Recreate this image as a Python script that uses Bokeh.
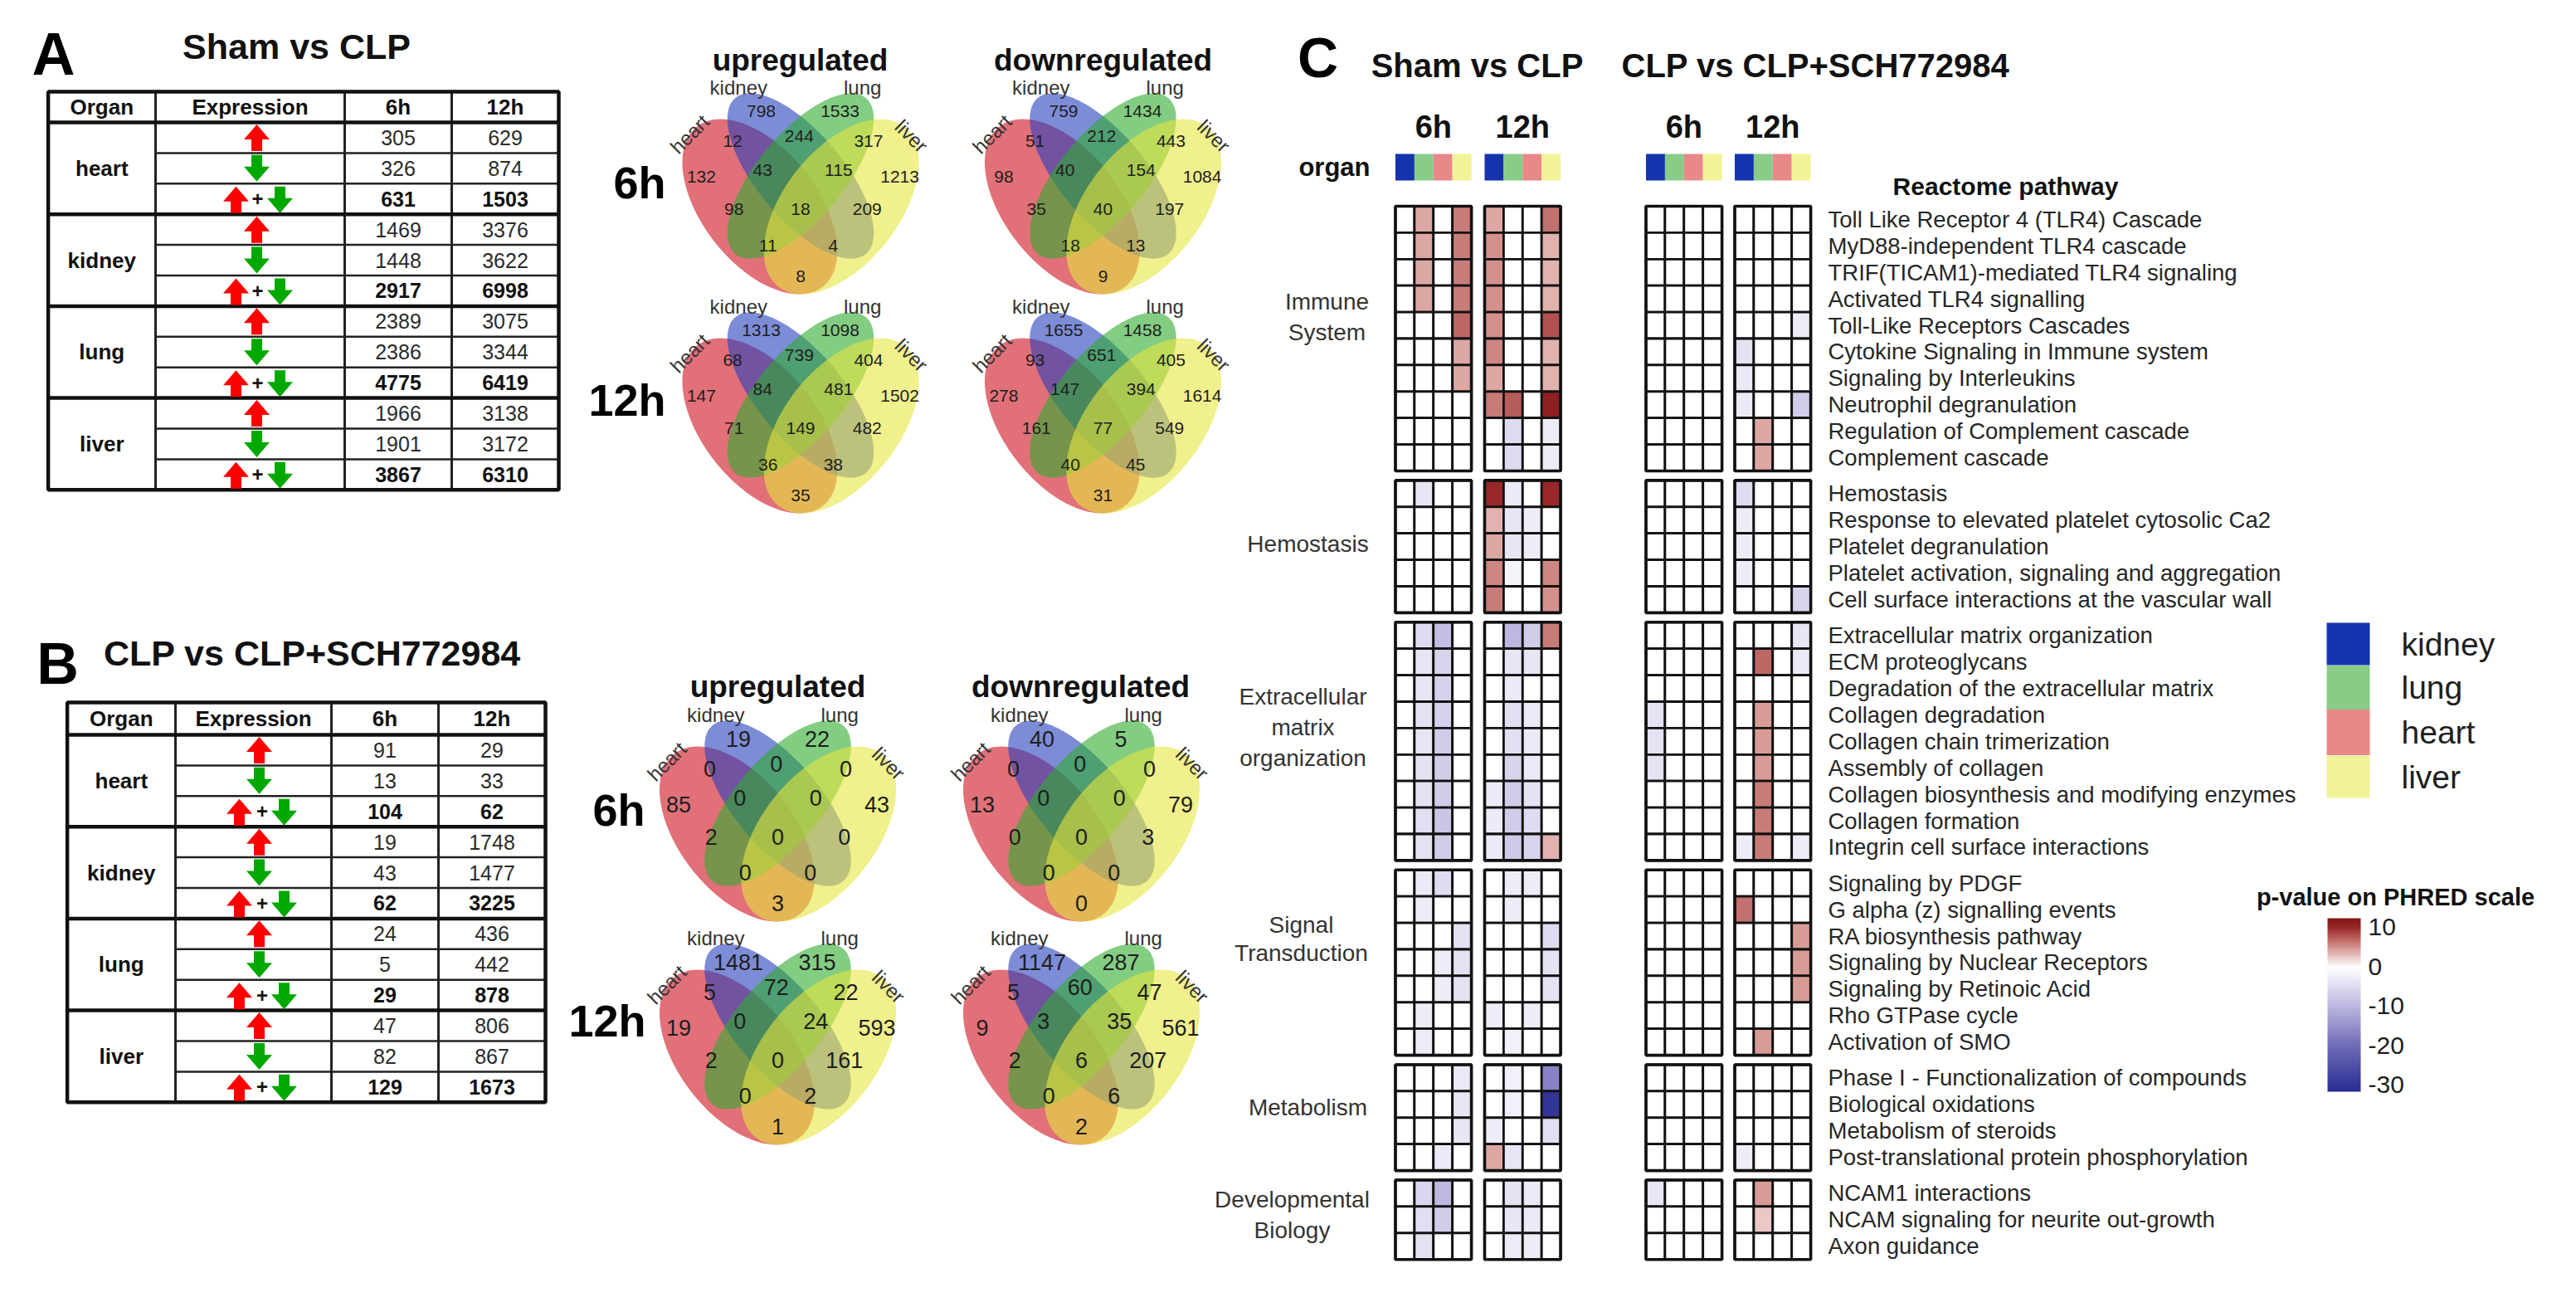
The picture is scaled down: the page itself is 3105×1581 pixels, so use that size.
import numpy as np
from bokeh.plotting import figure
from bokeh.models import Range1d, ColumnDataSource, LinearColorMapper, ColorBar, FixedTicker
from bokeh.transform import transform
from bokeh.core.properties import value
from bokeh.embed import file_html
from bokeh.resources import INLINE

FONT = "Liberation Sans"

# ------------------------------------------------------------------ DATA
organs = ["heart", "kidney", "lung", "liver"]
table_header = ["Organ", "Expression", "6h", "12h"]

a_up_6h = [305, 1469, 2389, 1966]
a_down_6h = [326, 1448, 2386, 1901]
a_total_6h = [631, 2917, 4775, 3867]
a_up_12h = [629, 3376, 3075, 3138]
a_down_12h = [874, 3622, 3344, 3172]
a_total_12h = [1503, 6998, 6419, 6310]

b_up_6h = [91, 19, 24, 47]
b_down_6h = [13, 43, 5, 82]
b_total_6h = [104, 62, 29, 129]
b_up_12h = [29, 1748, 436, 806]
b_down_12h = [33, 1477, 442, 867]
b_total_12h = [62, 3225, 878, 1673]

# venn regions, in this order
venn_regions = ["kidney", "lung", "heart&kidney", "kidney&lung", "lung&liver",
                "heart", "heart&kidney&lung", "kidney&lung&liver", "liver",
                "heart&lung", "all", "kidney&liver", "heart&lung&liver",
                "heart&kidney&liver", "heart&liver"]
venn_a_up_6h = [798, 1533, 12, 244, 317, 132, 43, 115, 1213, 98, 18, 209, 11, 4, 8]
venn_a_down_6h = [759, 1434, 51, 212, 443, 98, 40, 154, 1084, 35, 40, 197, 18, 13, 9]
venn_a_up_12h = [1313, 1098, 68, 739, 404, 147, 84, 481, 1502, 71, 149, 482, 36, 38, 35]
venn_a_down_12h = [1655, 1458, 93, 651, 405, 278, 147, 394, 1614, 161, 77, 549, 40, 45, 31]
venn_b_up_6h = [19, 22, 0, 0, 0, 85, 0, 0, 43, 2, 0, 0, 0, 0, 3]
venn_b_down_6h = [40, 5, 0, 0, 0, 13, 0, 0, 79, 0, 0, 3, 0, 0, 0]
venn_b_up_12h = [1481, 315, 5, 72, 22, 19, 0, 24, 593, 2, 0, 161, 0, 2, 1]
venn_b_down_12h = [1147, 287, 5, 60, 47, 9, 3, 35, 561, 2, 6, 207, 0, 6, 2]

heat_organs = ["kidney", "lung", "heart", "liver"]
group_names = [["Immune", "System"], ["Hemostasis"],
               ["Extracellular", "matrix", "organization"],
               ["Signal", "Transduction"], ["Metabolism"],
               ["Developmental", "Biology"]]
group_sizes = [10, 5, 9, 7, 4, 3]
pathways = [
    "Toll Like Receptor 4 (TLR4) Cascade", "MyD88-independent TLR4 cascade",
    "TRIF(TICAM1)-mediated TLR4 signaling", "Activated TLR4 signalling",
    "Toll-Like Receptors Cascades", "Cytokine Signaling in Immune system",
    "Signaling by Interleukins", "Neutrophil degranulation",
    "Regulation of Complement cascade", "Complement cascade",
    "Hemostasis", "Response to elevated platelet cytosolic Ca2",
    "Platelet degranulation", "Platelet activation, signaling and aggregation",
    "Cell surface interactions at the vascular wall",
    "Extracellular matrix organization", "ECM proteoglycans",
    "Degradation of the extracellular matrix", "Collagen degradation",
    "Collagen chain trimerization", "Assembly of collagen",
    "Collagen biosynthesis and modifying enzymes", "Collagen formation",
    "Integrin cell surface interactions",
    "Signaling by PDGF", "G alpha (z) signalling events", "RA biosynthesis pathway",
    "Signaling by Nuclear Receptors", "Signaling by Retinoic Acid",
    "Rho GTPase cycle", "Activation of SMO",
    "Phase I - Functionalization of compounds", "Biological oxidations",
    "Metabolism of steroids", "Post-translational protein phosphorylation",
    "NCAM1 interactions", "NCAM signaling for neurite out-growth", "Axon guidance"]

# PHRED-scaled p-values, columns kidney, lung, heart, liver
sham_6h = [
    [0, 4, 0, 6], [0, 4, 0, 6], [0, 4, 0, 6], [0, 4, 0, 6], [0, 0, 0, 7],
    [0, 0, 0, 4], [0, 0, 0, 4], [0, 0, 0, 0], [0, 0, 0, 0], [0, 0, 0, 0],
    [0, -3.5, 0, 0], [0, 0, 0, 0], [0, 0, 0, 0], [0, 0, 0, 0], [0, 0, 0, 0],
    [0, -5, -9, 0], [0, -3.5, -6, 0], [0, -3.5, -6.5, 0], [0, -4, -6.5, 0],
    [0, -3.5, -7, 0], [0, -4, -7, 0], [0, -4, -7, 0], [0, -4.5, -8, 0], [0, -4, -7, 0],
    [0, -3, -5, 0], [0, -2.5, 0, 0], [0, 0, 0, -4], [0, 0, -2.5, -4], [0, 0, -2.5, -4],
    [0, -2.5, 0, 0], [0, -2.5, 0, 0],
    [0, 0, 0, -3], [0, 0, 0, -3.5], [0, 0, 0, -3.5], [0, 0, -3, 0],
    [0, -5.5, -10, 0], [0, -4.5, -7, 0], [0, -4, 0, 0]]
sham_12h = [
    [4, 0, 0, 6.5], [5, 0, 0, 3.5], [5, 0, 0, 3.5], [5, 0, 0, 3.5], [5, 0, 0, 8],
    [5.5, 0, 0, 3.5], [4, 0, 0, 3.5], [6, 7.5, 0, 11], [0, -5, 0, -2.5], [0, -5, 0, -2.5],
    [10, -3, 0, 10], [3.5, -3.5, -2.5, 0], [4, -3.5, -2.5, 0], [5.5, -1.5, 0, 5.5], [6, 0, 0, 5],
    [0, -10, -7, 6], [0, -3.5, -3.5, 0], [0, -3, 0, 0], [0, -4.5, -3, 0],
    [0, -4.5, -3, 0], [0, -6, -3, 0], [-3, -7, -4, 0], [-3, -7, -5, 0], [-3, -7.5, -6, 3.5],
    [0, -2.5, -2.5, 0], [0, -2.5, 0, 0], [0, 0, 0, -5], [0, 0, 0, -4], [0, 0, 0, -4],
    [-2.5, 0, -2.5, 0], [0, -2, 0, 0],
    [0, -2, 0, -17], [0, -2, 0, -30], [-2.5, 0, 0, -4.5], [4, -3.5, 0, 0],
    [0, -4, -3, 0], [0, -3.5, -3, 0], [0, -2.5, -2.5, 0]]
sch_6h = [
    [0, 0, 0, 0], [0, 0, 0, 0], [0, 0, 0, 0], [0, 0, 0, 0], [0, 0, 0, 0],
    [0, 0, 0, 0], [0, 0, 0, 0], [0, 0, 0, 0], [0, 0, 0, 0], [0, 0, 0, 0],
    [0, 0, 0, 0], [0, 0, 0, 0], [0, 0, 0, 0], [0, 0, 0, 0], [0, 0, 0, 0],
    [0, 0, 0, 0], [0, 0, 0, 0], [0, 0, 0, 0], [-4, 0, 0, 0],
    [-4, 0, 0, 0], [-4, 0, 0, 0], [0, 0, 0, 0], [0, 0, 0, 0], [0, 0, 0, 0],
    [0, 0, 0, 0], [0, 0, 0, 0], [0, 0, 0, 0], [0, 0, 0, 0], [0, 0, 0, 0],
    [0, 0, 0, 0], [0, 0, 0, 0],
    [0, 0, 0, 0], [0, 0, 0, 0], [0, 0, 0, 0], [0, 0, 0, 0],
    [-3.5, 0, 0, 0], [0, 0, 0, 0], [0, 0, 0, 0]]
sch_12h = [
    [0, 0, 0, 0], [0, 0, 0, 0], [0, 0, 0, 0], [0, 0, 0, 0], [0, 0, 0, -2.5],
    [-4, 0, 0, 0], [-3, 0, 0, 0], [-3, 0, 0, -7], [0, 4, 0, 0], [0, 4, 0, 0],
    [-5, 0, 0, 0], [-2.5, 0, 0, 0], [-2.5, 0, 0, 0], [-2.5, 0, 0, 0], [0, 0, 0, -6],
    [0, 0, 0, -3.5], [0, 7, 0, -3], [0, 0, 0, 0], [0, 4.5, 0, 0],
    [0, 4.5, 0, 0], [0, 4.5, 0, 0], [0, 6, 0, 0], [0, 6, 0, 0], [-2.5, 6, 0, -2.5],
    [0, 0, 0, 0], [6.5, 0, 0, 0], [0, 0, 0, 4.5], [0, 0, 0, 4.5], [0, 0, 0, 4.5],
    [0, 0, 0, 0], [0, 4.5, 0, 0],
    [0, 0, 0, 0], [0, 0, 0, 0], [0, 0, 0, 0], [-2.5, 0, 0, 0],
    [0, 4.5, 0, 0], [0, 2.5, 0, 0], [0, 0, 0, 0]]
heat_blocks = [sham_6h, sham_12h, sch_6h, sch_12h]
colorbar_ticks = [10, 0, -10, -20, -30]
colorbar_labels = ["10", "0", "-10", "-20", "-30"]

# ------------------------------------------------------------------ STYLE
ORGAN_COLORS = {"kidney": "#1533ad", "lung": "#88cc88", "heart": "#e88888", "liver": "#f2f298"}
VENN_FILL = ["#cf111e", "#263fbc", "#2fac2f", "#e6e63f"]   # heart, kidney, lung, liver
UP_RED, DOWN_GREEN = "#ff0000", "#00a800"

W, H = 3089, 1565
p = figure(width=W, height=H, x_range=Range1d(8, 8 + W), y_range=Range1d(8 + H, 8),
           output_backend="svg", toolbar_location=None, min_border=0,
           x_axis_location=None, y_axis_location=None)
p.grid.visible = False
p.outline_line_color = None
p.background_fill_color = "white"


def txt(xs, ys, texts, size, bold=False, align="center", baseline="middle",
        color="#1a1a1a", angle=0.0):
    p.text(x=list(xs), y=list(ys), text=[str(t) for t in texts], text_font=value(FONT),
           text_font_size=f"{size}px", text_font_style="bold" if bold else "normal",
           text_align=align, text_baseline=baseline, text_color=color, angle=angle)


# ------------------------------------------------------------------ TABLES
def arrow_poly(cx, cy, up, h=32.0, hw=31.0, hh=18.0, sw=13.0):
    s = -1 if up else 1          # screen y grows downward
    tip = cy + s * h / 2
    base = tip - s * hh
    tail = cy - s * h / 2
    xs = [cx, cx + hw / 2, cx + sw / 2, cx + sw / 2, cx - sw / 2, cx - sw / 2, cx - hw / 2]
    ys = [tip, base, base, tail, tail, base, base]
    return xs, ys


def draw_table(xe, y_top, y_head, row_h, c6, c12, arrow_x, combo_x):
    y_bot = y_head + 12 * row_h
    ys = [y_head + k * row_h for k in range(1, 12) if k % 3]
    p.segment(x0=[xe[1]] * len(ys), y0=ys, x1=[xe[4]] * len(ys), y1=ys,
              line_color="#222222", line_width=2.5)
    p.segment(x0=xe[1:4], y0=[y_top] * 3, x1=xe[1:4], y1=[y_bot] * 3,
              line_color="#222222", line_width=3)
    gy = [y_head] + [y_head + 3 * k * row_h for k in range(1, 4)]
    p.segment(x0=[xe[0]] * 4, y0=gy, x1=[xe[4]] * 4, y1=gy, line_color="#111111", line_width=4.5)
    p.quad(left=[xe[0]], right=[xe[4]], top=[y_top], bottom=[y_bot], fill_color=None,
           line_color="#111111", line_width=4.5)
    cx = [(xe[i] + xe[i + 1]) / 2 for i in range(4)]
    txt(cx, [(y_top + y_head) / 2] * 4, table_header, 26, bold=True, color="#111111")
    centers = [y_head + (3 * g + 1.5) * row_h for g in range(4)]
    txt([cx[0]] * 4, centers, organs, 26, bold=True, color="#111111")
    up6, dn6, tt6 = c6
    up12, dn12, tt12 = c12
    for g in range(4):
        r0 = y_head + (3 * g + 0.5) * row_h
        rows = [r0, r0 + row_h, r0 + 2 * row_h]
        txt([cx[2], cx[2]], rows[:2], [up6[g], dn6[g]], 25, color="#2a2a2a")
        txt([cx[3], cx[3]], rows[:2], [up12[g], dn12[g]], 25, color="#2a2a2a")
        txt([cx[2], cx[3]], [rows[2]] * 2, [tt6[g], tt12[g]], 25, bold=True, color="#111111")
        ux, uy = arrow_poly(arrow_x, rows[0], True)
        dx, dy = arrow_poly(arrow_x, rows[1], False)
        cux, cuy = arrow_poly(combo_x[0], rows[2] + 1, True)
        cdx, cdy = arrow_poly(combo_x[2], rows[2] + 1, False)
        p.patches(xs=[ux, cux], ys=[uy, cuy], fill_color=UP_RED, line_color=None)
        p.patches(xs=[dx, cdx], ys=[dy, cdy], fill_color=DOWN_GREEN, line_color=None)
        txt([combo_x[1]], [rows[2]], ["+"], 24, bold=True, color="#111111")


draw_table([65.6, 195, 423, 552, 681], 118, 155, 36.9,
           (a_up_6h, a_down_6h, a_total_6h), (a_up_12h, a_down_12h, a_total_12h),
           317, (292, 318, 345))
draw_table([88.6, 219, 407, 536, 665], 854, 893, 36.9,
           (b_up_6h, b_down_6h, b_total_6h), (b_up_12h, b_down_12h, b_total_12h),
           320, (296, 323.5, 350))

txt([72], [72], ["A"], 72, bold=True, color="#000000")
txt([365], [63], ["Sham vs CLP"], 43, bold=True, color="#111111")
txt([77], [807], ["B"], 70, bold=True, color="#000000")
txt([384], [794], ["CLP vs CLP+SCH772984"], 43, bold=True, color="#111111")

# ------------------------------------------------------------------ VENNS
ELLIPSES = [(0.35, 0.47, 0.35, 0.20, 135), (0.50, 0.57, 0.35, 0.15, 135),
            (0.50, 0.57, 0.35, 0.15, 45), (0.65, 0.47, 0.35, 0.20, 45)]
REGION_UV = [(0.355, 0.78), (0.645, 0.78), (0.25, 0.683), (0.495, 0.699), (0.75, 0.683),
             (0.135, 0.567), (0.36, 0.588), (0.64, 0.588), (0.865, 0.567),
             (0.255, 0.461), (0.5, 0.461), (0.745, 0.461),
             (0.38, 0.344), (0.62, 0.344), (0.5, 0.244)]
SET_LABELS = [("kidney", 0.272, 0.858, 0.0), ("lung", 0.728, 0.858, 0.0),
              ("heart", 0.092, 0.706, 45.0), ("liver", 0.908, 0.700, -45.0)]
SX, SY, VTOP = 327.6, 370.0, 0.839
tt = np.linspace(0, 2 * np.pi, 160)


def draw_venn(cx, top, vals, numsize):
    def tx(u):
        return cx + (np.asarray(u) - 0.5) * SX

    def ty(v):
        return top + (VTOP - np.asarray(v)) * SY
    for (ex, ey, a, b, ang), col in zip(ELLIPSES, VENN_FILL):
        th = np.deg2rad(ang)
        u = ex + a * np.cos(tt) * np.cos(th) - b * np.sin(tt) * np.sin(th)
        v = ey + a * np.cos(tt) * np.sin(th) + b * np.sin(tt) * np.cos(th)
        p.patch(x=tx(u), y=ty(v), fill_color=col, fill_alpha=0.6, line_color=None)
    uv = np.array(REGION_UV)
    txt(tx(uv[:, 0]), ty(uv[:, 1]), vals, numsize, color="#1e1e1e")
    for name, u, v, ang in SET_LABELS:
        txt([tx(u)], [ty(v)], [name], 24, color="#333333", angle=np.deg2rad(ang))


draw_venn(972.5, 120, venn_a_up_6h, 21)
draw_venn(1337, 120, venn_a_down_6h, 21)
draw_venn(972.5, 384, venn_a_up_12h, 21)
draw_venn(1337, 384, venn_a_down_12h, 21)
draw_venn(945, 876, venn_b_up_6h, 27)
draw_venn(1311, 876, venn_b_down_6h, 27)
draw_venn(945, 1145, venn_b_up_12h, 27)
draw_venn(1311, 1145, venn_b_down_12h, 27)

txt([972, 1337], [80, 80], ["upregulated", "downregulated"], 37, bold=True, color="#111111")
txt([945, 1310], [835, 835], ["upregulated", "downregulated"], 37, bold=True, color="#111111")
txt([810, 810], [227, 489], ["6h", "12h"], 54, bold=True, align="right", color="#000000")
txt([785, 786], [983, 1237], ["6h", "12h"], 54, bold=True, align="right", color="#000000")

# ------------------------------------------------------------------ HEATMAP
LOW, HIGH = -31.7, 12.3
stops = [(-31.7, (40, 45, 145)), (-20, (112, 108, 184)), (-10, (188, 184, 224)),
         (0, (255, 255, 255)), (5, (212, 145, 140)), (10, (152, 40, 40)), (12.3, (130, 22, 24))]
sv = np.array([s[0] for s in stops])
sc = np.array([s[1] for s in stops], dtype=float)
grid_v = np.linspace(LOW, HIGH, 441)
palette = []
for gv in grid_v:
    rgb = [np.interp(gv, sv, sc[:, k]) for k in range(3)]
    palette.append("#%02x%02x%02x" % tuple(int(round(c)) for c in rgb))
mapper = LinearColorMapper(palette=palette, low=LOW, high=HIGH)

block_x0 = [1689.5, 1797.0, 1991.5, 2098.5]
col_w = 22.9
row_h = 31.9
gap = 11.4
grid_top = 256.0

row_top = []
group_span = []
yy = grid_top
for gs in group_sizes:
    group_span.append((yy, yy + gs * row_h))
    for i in range(gs):
        row_top.append(yy + i * row_h)
    yy += gs * row_h + gap

cx_l, cy_l, v_l = [], [], []
for b, blk in enumerate(heat_blocks):
    for r, rowvals in enumerate(blk):
        for c, val in enumerate(rowvals):
            cx_l.append(block_x0[b] + (c + 0.5) * col_w)
            cy_l.append(row_top[r] + row_h / 2)
            v_l.append(val)
src = ColumnDataSource(dict(x=cx_l, y=cy_l, v=v_l))
p.rect(x="x", y="y", width=col_w, height=row_h, source=src,
       fill_color=transform("v", mapper), line_color="#111111", line_width=2.8)
ox, oy, oh = [], [], []
for b in range(4):
    for (g0, g1) in group_span:
        ox.append(block_x0[b] + 2 * col_w)
        oy.append((g0 + g1) / 2)
        oh.append(g1 - g0)
p.rect(x=ox, y=oy, width=4 * col_w, height=oh, fill_color=None,
       line_color="#111111", line_width=3.6)

sx_, sy_, scol = [], [], []
for b in range(4):
    for c, org in enumerate(heat_organs):
        sx_.append(block_x0[b] + (c + 0.5) * col_w)
        sy_.append(209)
        scol.append(ORGAN_COLORS[org])
p.rect(x=sx_, y=sy_, width=col_w, height=32, fill_color=scol, line_color=None)

txt([2211] * len(pathways), [t + row_h / 2 for t in row_top], pathways, 27.5,
    align="left", color="#262626")

group_cx = [1607, 1584, 1578, 1576, 1584, 1565]
group_ys = [[371, 408], [663], [847, 884, 921], [1122, 1156], [1342], [1453, 1490]]
for names, gx, gys in zip(group_names, group_cx, group_ys):
    txt([gx] * len(names), gys, names, 28, color="#333333")

blk_centers = [bx + 2 * col_w for bx in block_x0]
txt(blk_centers, [160] * 4, ["6h", "12h", "6h", "12h"], 38, bold=True, color="#111111")
txt([1659], [209], ["organ"], 31, bold=True, align="right", color="#111111")
txt([1596], [76], ["C"], 68, bold=True, color="#000000")
txt([1788], [86], ["Sham vs CLP"], 40, bold=True, color="#111111")
txt([2196], [86], ["CLP vs CLP+SCH772984"], 40, bold=True, color="#111111")
txt([2425], [232], ["Reactome pathway"], 30, bold=True, color="#111111")

leg_y = [783.5, 836, 890, 943.5]
p.rect(x=[2838] * 4, y=leg_y, width=52, height=[51, 53, 55, 51],
       fill_color=[ORGAN_COLORS[o] for o in heat_organs], line_color=None)
txt([2902] * 4, leg_y, heat_organs, 39, align="left", color="#1e1e1e")

# colour bar (gradient from the mapper; labels and both-side ticks drawn as glyphs)
CB_X0, CB_W, CB_BOTTOM, CB_H = 2813, 40, 1323, 209
txt([2895], [1088], ["p-value on PHRED scale"], 29, bold=True, color="#111111")
cb = ColorBar(color_mapper=mapper, location=(CB_X0 - 8, (8 + H) - CB_BOTTOM), width=CB_W,
              height=CB_H, padding=0, margin=0, ticker=FixedTicker(ticks=[]),
              major_label_text_alpha=0, major_tick_line_color=None,
              minor_tick_line_color=None, bar_line_color=None, border_line_color=None,
              background_fill_alpha=0)
p.add_layout(cb)
tick_y = [CB_BOTTOM - (t - LOW) / (HIGH - LOW) * CB_H for t in colorbar_ticks]
p.segment(x0=[CB_X0] * 5 + [CB_X0 + CB_W - 8] * 5, y0=tick_y * 2,
          x1=[CB_X0 + 8] * 5 + [CB_X0 + CB_W] * 5, y1=tick_y * 2,
          line_color="white", line_width=2)
txt([CB_X0 + CB_W + 9] * 5, tick_y, colorbar_labels, 30, align="left", color="#1e1e1e")

open("out.html", "w").write(file_html(p, INLINE))
